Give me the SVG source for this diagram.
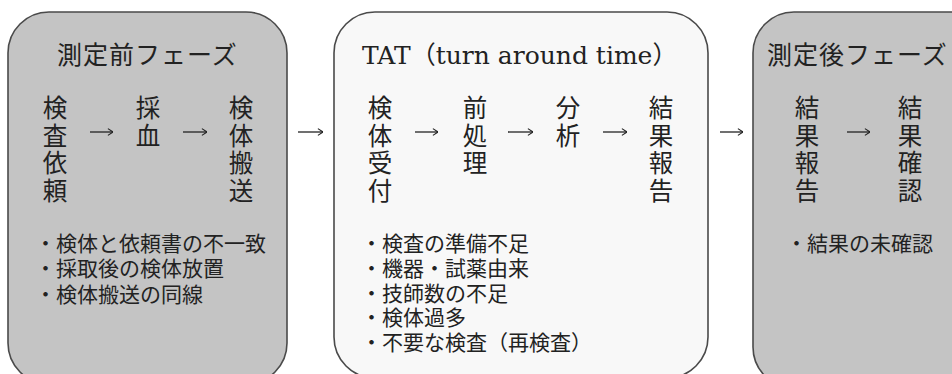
<svg xmlns="http://www.w3.org/2000/svg" width="952" height="374" viewBox="0 0 952 374">
  <style>
    .box-gray { fill: #c4c4c4; stroke: #4a4a4a; stroke-width: 1.6; }
    .box-white { fill: #f8f8f8; stroke: #4a4a4a; stroke-width: 1.6; }
    .title { font-family: "Liberation Sans", "Noto Sans CJK JP", sans-serif; font-size: 25px; fill: #222; letter-spacing: 1px; }
    .title-lat { font-family: "DejaVu Serif", "Noto Sans CJK JP", serif; font-size: 25px; fill: #222; }
    .col { font-family: "Liberation Sans", "Noto Sans CJK JP", sans-serif; font-size: 24.5px; fill: #222; text-anchor: middle; }
    .bul { font-family: "Liberation Sans", "Noto Sans CJK JP", sans-serif; font-size: 21px; fill: #222; }
    .arr { fill: none; stroke: #222; stroke-width: 1.3; marker-end: url(#ah); }
  </style>
  <defs>
    <marker id="ah" viewBox="0 0 6 8" refX="5.6" refY="4" markerWidth="6" markerHeight="8" markerUnits="userSpaceOnUse" orient="auto">
      <path d="M0.5,0.6 L5.6,4 L0.5,7.4" fill="none" stroke="#222" stroke-width="1.1"/>
    </marker>
  </defs>
  <rect width="952" height="374" fill="#ffffff"/>

  <g id="phase-pre">
    <rect class="box-gray" x="8" y="12" width="279" height="372" rx="41" ry="41"/>
    <text class="title" x="57" y="64">測定前フェーズ</text>
    <g id="step-kensa-irai">
      <text class="col"><tspan x="55" y="117">検</tspan><tspan x="55" y="145">査</tspan><tspan x="55" y="172">依</tspan><tspan x="55" y="200">頼</tspan></text>
    </g>
    <g id="step-saiketsu">
      <text class="col"><tspan x="148" y="117">採</tspan><tspan x="148" y="145">血</tspan></text>
    </g>
    <g id="step-kentai-hanso">
      <text class="col"><tspan x="241" y="117">検</tspan><tspan x="241" y="145">体</tspan><tspan x="241" y="172">搬</tspan><tspan x="241" y="200">送</tspan></text>
    </g>
    <text class="bul" x="35" y="251">・検体と依頼書の不一致</text>
    <text class="bul" x="35" y="276">・採取後の検体放置</text>
    <text class="bul" x="35" y="302">・検体搬送の同線</text>
  </g>

  <g id="phase-tat">
    <rect class="box-white" x="334" y="12" width="374" height="366" rx="41" ry="41"/>
    <text class="title-lat" x="362" y="64">TAT（turn around time）</text>
    <g id="step-uketsuke">
      <text class="col"><tspan x="380" y="117">検</tspan><tspan x="380" y="145">体</tspan><tspan x="380" y="172">受</tspan><tspan x="380" y="200">付</tspan></text>
    </g>
    <g id="step-maeshori">
      <text class="col"><tspan x="475" y="117">前</tspan><tspan x="475" y="145">処</tspan><tspan x="475" y="172">理</tspan></text>
    </g>
    <g id="step-bunseki">
      <text class="col"><tspan x="568" y="117">分</tspan><tspan x="568" y="145">析</tspan></text>
    </g>
    <g id="step-kekka-hokoku">
      <text class="col"><tspan x="661" y="117">結</tspan><tspan x="661" y="145">果</tspan><tspan x="661" y="172">報</tspan><tspan x="661" y="200">告</tspan></text>
    </g>
    <text class="bul" x="361" y="251">・検査の準備不足</text>
    <text class="bul" x="361" y="276">・機器・試薬由来</text>
    <text class="bul" x="361" y="301">・技師数の不足</text>
    <text class="bul" x="361" y="325">・検体過多</text>
    <text class="bul" x="361" y="350">・不要な検査（再検査）</text>
  </g>

  <g id="phase-post">
    <rect class="box-gray" x="753" y="12" width="240" height="376" rx="41" ry="41"/>
    <text class="title" x="767" y="64">測定後フェーズ</text>
    <g id="step-post-hokoku">
      <text class="col"><tspan x="807" y="117">結</tspan><tspan x="807" y="145">果</tspan><tspan x="807" y="172">報</tspan><tspan x="807" y="200">告</tspan></text>
    </g>
    <g id="step-kakunin">
      <text class="col"><tspan x="910" y="117">結</tspan><tspan x="910" y="145">果</tspan><tspan x="910" y="172">確</tspan><tspan x="910" y="200">認</tspan></text>
    </g>
    <text class="bul" x="786" y="251">・結果の未確認</text>
  </g>

  <g id="connectors">
    <path class="arr" d="M90,132 H113"/>
    <path class="arr" d="M183,132 H207"/>
    <path class="arr" d="M298,132 H323"/>
    <path class="arr" d="M415,132 H438"/>
    <path class="arr" d="M508,132 H533"/>
    <path class="arr" d="M603,132 H627"/>
    <path class="arr" d="M720,132 H743"/>
    <path class="arr" d="M847,132 H870"/>
  </g>
</svg>
